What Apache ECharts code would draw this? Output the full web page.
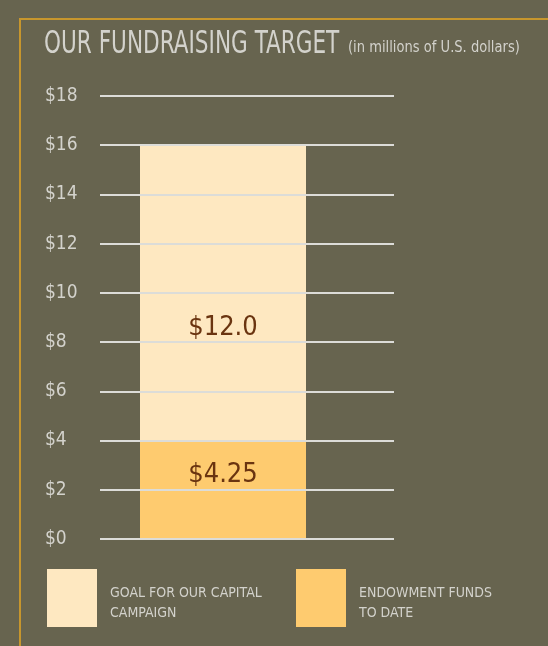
<!DOCTYPE html>
<html><head><meta charset="utf-8">
<script src="https://cdn.jsdelivr.net/npm/echarts@6/dist/echarts.min.js"></script>
<style>html,body{margin:0;padding:0;background:#67644f}#c{width:548px;height:646px}</style>
</head><body><div id="c"></div>
<script>
const categories = ['Target'];
const endowmentValues = [4];
const goalValues = [12];
const endowmentLabel = '$4.25';
const goalLabel = '$12.0';
const yMin = 0, yMax = 18, yStep = 2;
const titleText = 'OUR FUNDRAISING TARGET';
const subtitleText = '(in millions of U.S. dollars)';
const goalName = 'GOAL FOR OUR CAPITAL CAMPAIGN';
const endowmentName = 'ENDOWMENT FUNDS TO DATE';
const goalLegendLines = ['GOAL FOR OUR CAPITAL', 'CAMPAIGN'];
const endowmentLegendLines = ['ENDOWMENT FUNDS', 'TO DATE'];

const FONT = "'DejaVu Sans Condensed','Roboto',sans-serif";
const BG = '#67644f';
const TEXT = '#d3d2cc';
const legendRich = {
  s: {fontFamily: FONT, fontSize: 8, lineHeight: 10, color: TEXT},
  t: {fontFamily: FONT, fontSize: 14, lineHeight: 20, color: TEXT}
};
const legendFmt = lines => '{s| }\n' + lines.map(l => '{t|' + l + '}').join('\n');
const chart = echarts.init(document.getElementById('c'), null, {renderer:'canvas'});
chart.setOption({
  backgroundColor: BG,
  animation: false,
  graphic: [{
    type: 'polyline', silent: true,
    shape: {points: [[548, 19], [20, 19], [20, 646]]},
    style: {stroke: '#c7962d', lineWidth: 2, fill: null}
  }, {
    type: 'text', x: 44, y: 29, scaleX: 0.75, silent: true,
    style: {text: titleText, fontFamily: FONT, fontSize: 32, fill: TEXT, verticalAlign: 'top'}
  }, {
    type: 'text', x: 348, y: 41, scaleX: 0.97, silent: true,
    style: {text: subtitleText, fontFamily: FONT, fontSize: 15, fill: TEXT, verticalAlign: 'top'}
  }],
  legend: [{
    left: 42, top: 564, itemWidth: 50, itemHeight: 58, icon: 'rect',
    data: [goalName], selectedMode: false,
    formatter: () => legendFmt(goalLegendLines),
    textStyle: {fontFamily: FONT, fontSize: 14, color: TEXT, padding: [0, 0, 0, 8], rich: legendRich}
  }, {
    left: 291, top: 564, itemWidth: 50, itemHeight: 58, icon: 'rect',
    data: [endowmentName], selectedMode: false,
    formatter: () => legendFmt(endowmentLegendLines),
    textStyle: {fontFamily: FONT, fontSize: 14, color: TEXT, padding: [0, 0, 0, 8], rich: legendRich}
  }],
  grid: [
    {left: 140, width: 166, top: 96, height: 443},
    {left: 100, width: 294, top: 96, height: 443}
  ],
  xAxis: [
    {type: 'category', gridIndex: 0, data: categories, show: false},
    {type: 'category', gridIndex: 1, data: categories, show: false}
  ],
  yAxis: [
    {type: 'value', gridIndex: 0, min: yMin, max: yMax, interval: yStep, show: false},
    {type: 'value', gridIndex: 1, min: yMin, max: yMax, interval: yStep, z: 10,
     axisLine: {show: false}, axisTick: {show: false},
     splitLine: {show: true, lineStyle: {color: '#dcdcd8', width: 2}},
     axisLabel: {align: 'left', margin: 55, color: TEXT, fontFamily: FONT, fontSize: 19,
       formatter: v => '$' + v}}
  ],
  series: [
    {name: endowmentName, type: 'bar', stack: 'total', xAxisIndex: 0, yAxisIndex: 0,
     barWidth: '100%', data: endowmentValues, itemStyle: {color: '#fecb6f'},
     label: {show: true, position: 'inside', offset: [0, -15], formatter: () => endowmentLabel,
       color: '#6a3410', fontFamily: FONT, fontSize: 27}},
    {name: goalName, type: 'bar', stack: 'total', xAxisIndex: 0, yAxisIndex: 0,
     barWidth: '100%', data: goalValues, itemStyle: {color: '#fee8c1'},
     label: {show: true, position: 'inside', offset: [0, 35], formatter: () => goalLabel,
       color: '#6a3410', fontFamily: FONT, fontSize: 27}}
  ]
});
</script></body></html>
